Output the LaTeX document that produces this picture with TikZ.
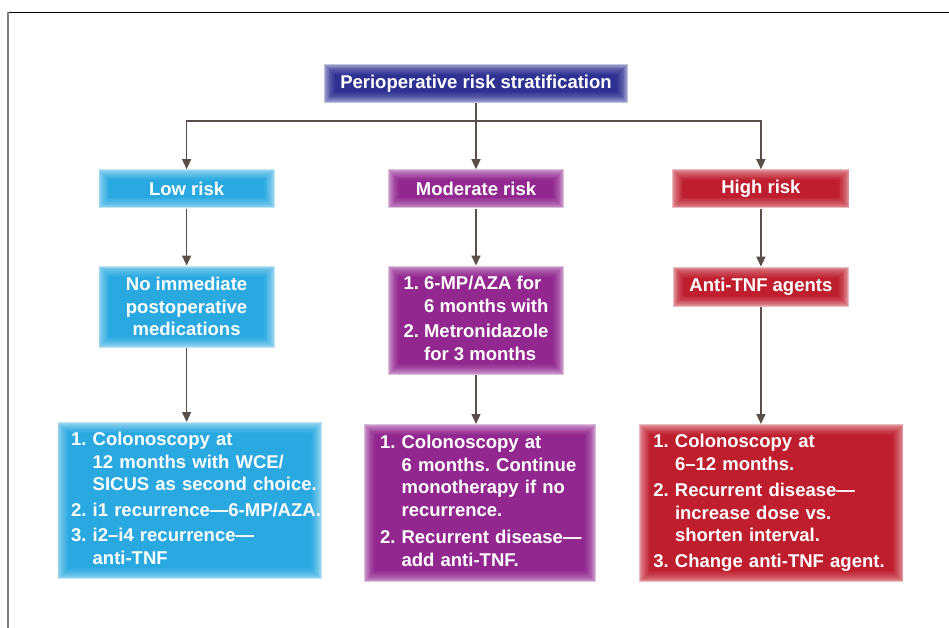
\documentclass[tikz,border=0pt]{standalone}
\usepackage{fontspec}
\setmainfont{Liberation Sans}
\usetikzlibrary{arrows.meta, positioning}
\definecolor{titleblue}{HTML}{2E3192}
\definecolor{lowblue}{HTML}{29A9E0}
\definecolor{modpurple}{HTML}{92278F}
\definecolor{highred}{HTML}{BE1E2D}
\definecolor{arrowgray}{HTML}{5A4E49}
\definecolor{framegray}{HTML}{7F7F7F}
\tikzset{glow/.style={fill=#1!30, path picture={%
  \foreach \k [evaluate=\k as \p using int(30+70*sqrt(\k/12))] in {1,...,12}
    \fill[#1!\p] ([shift={(0.9*\k bp,0.9*\k bp)}]path picture bounding box.south west) rectangle ([shift={(-0.9*\k bp,-0.9*\k bp)}]path picture bounding box.north east);}}}
\tikzstyle{box} = [rectangle, inner sep=0pt, text=white, font=\fontsize{18.5bp}{22.5bp}\selectfont\bfseries, align=center]
\tikzstyle{titlebox} = [box, glow=titleblue, minimum width=304bp, minimum height=39bp]
\tikzstyle{lowbox} = [box, glow=lowblue]
\tikzstyle{modbox} = [box, glow=modpurple]
\tikzstyle{highbox} = [box, glow=highred]
\tikzstyle{arrow} = [line width=1.4bp, draw=arrowgray, -{Triangle[length=10bp,width=9bp]}]
\frenchspacing
\begin{document}
\begin{tikzpicture}[x=1bp, y=-1bp]
\useasboundingbox (0,0) rectangle (949,628);

% frame
\draw[line width=0.8bp] (8,12) -- (949,12);
\draw[line width=1.5bp, framegray] (8,12) -- (8,628);

% top
\node (risk) [titlebox] at (476,83.5) {Perioperative risk stratification};

% risk groups
\node (mod) [modbox, below=66bp of risk, minimum width=176bp, minimum height=39bp] {Moderate risk};
\node (low) [lowbox, left=113bp of mod, minimum width=176bp, minimum height=39bp] {Low risk};
\node (high) [highbox, right=108bp of mod, minimum width=177bp, minimum height=39bp] {High risk};

% medications
\node (lowmed) [lowbox, below=57bp of low, minimum width=176bp, minimum height=82bp] {No immediate\\postoperative\\medications};
\node (modmed) [modbox, below=57bp of mod, minimum width=176bp, minimum height=109bp] {\begin{tabular}{@{}l@{\ }l@{}}
1. & 6-MP/AZA for\\
   & 6 months with\\[3bp]
2. & Metronidazole\\
   & for 3 months
\end{tabular}};
\node (highmed) [highbox, below=58bp of high, minimum width=176bp, minimum height=40bp] {Anti-TNF agents};

% follow-up
\node (lowfu) [lowbox, below=74bp of lowmed, xshift=3bp, text width=237bp, inner xsep=13.5bp, minimum height=157bp, align=left] {\begin{tabular}{@{}l@{\ }l@{}}
1. & Colonoscopy at\\
   & 12 months with WCE/\\
   & SICUS as second choice.\\[3bp]
2. & i1 recurrence—6-MP/AZA.\\[3bp]
3. & i2–i4 recurrence—\\
   & anti-TNF
\end{tabular}};
\node (modfu) [modbox, below=49bp of modmed, xshift=4bp, text width=200bp, inner xsep=16bp, minimum height=158bp, align=left] {\begin{tabular}{@{}l@{\ }l@{}}
1. & Colonoscopy at\\
   & 6 months. Continue\\
   & monotherapy if no\\
   & recurrence.\\[5bp]
2. & Recurrent disease—\\
   & add anti-TNF.
\end{tabular}};
\node (highfu) [highbox, below=117bp of highmed, xshift=10.5bp, text width=236bp, inner xsep=14bp, minimum height=158bp, align=left] {\begin{tabular}{@{}l@{\ }l@{}}
1. & Colonoscopy at\\
   & 6–12 months.\\[4bp]
2. & Recurrent disease—\\
   & increase dose vs.\\
   & shorten interval.\\[3bp]
3. & Change anti-TNF agent.
\end{tabular}};

% arrows
\coordinate (split) at ([yshift=-18bp]risk.south);
\draw[line width=1.4bp, arrowgray] (risk) -- (split);
\draw[arrow] (split) -| (low);
\draw[arrow] (split) -- (mod);
\draw[arrow] (split) -| (high);
\draw[arrow] (low) -- (lowmed);
\draw[arrow] (mod) -- (modmed);
\draw[arrow] (high) -- (highmed);
\draw[arrow] (lowmed) -- (lowmed |- lowfu.north);
\draw[arrow] (modmed) -- (modmed |- modfu.north);
\draw[arrow] (highmed) -- (highmed |- highfu.north);

\end{tikzpicture}
\end{document}
